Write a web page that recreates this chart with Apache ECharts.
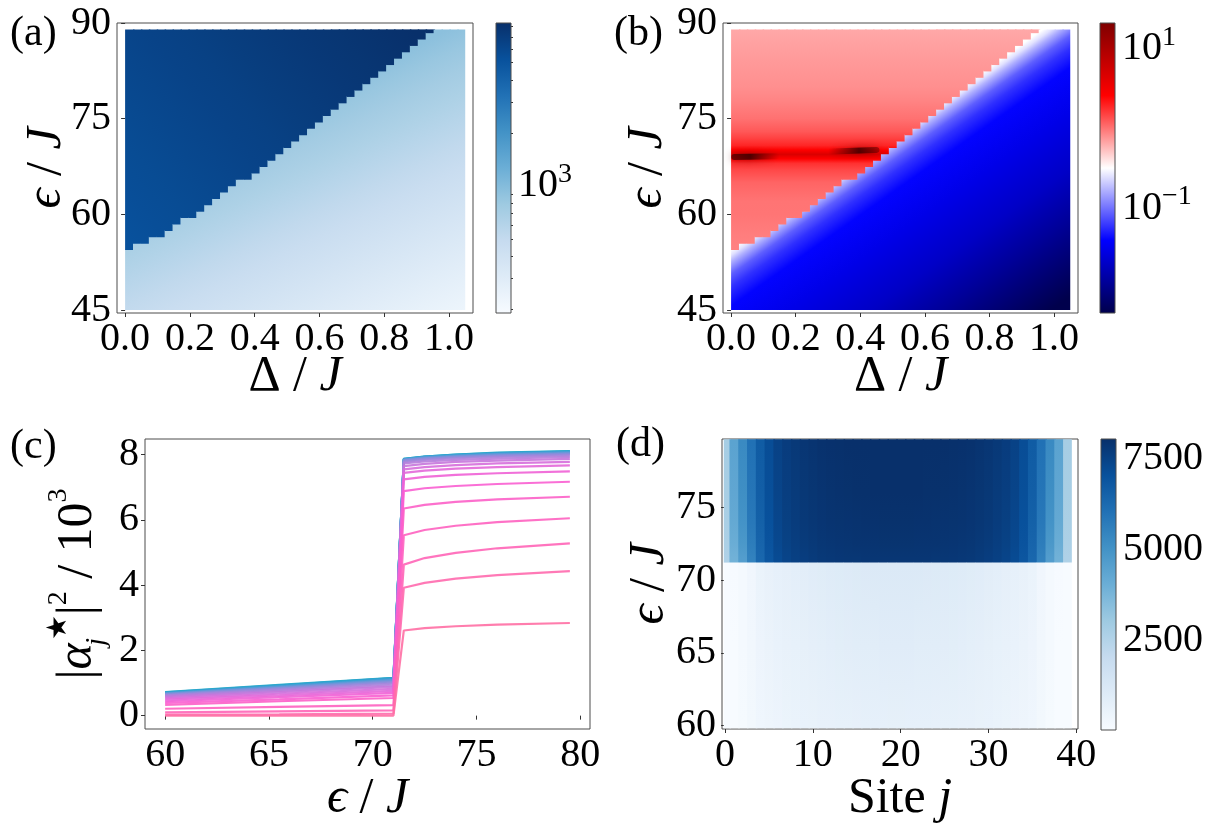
<!DOCTYPE html>
<html>
<head>
<meta charset="utf-8">
<title>phase diagram</title>
<script src="https://cdn.jsdelivr.net/npm/echarts@6.0.0/dist/echarts.min.js"></script>
<style>
html, body { margin: 0; padding: 0; background: #fff; }
#chart { width: 1214px; height: 836px; }
</style>
</head>
<body>
<div id="chart"></div>
<script>
// ---------- values ----------
// (a), (b): Delta/J columns over [0, 1.05], eps/J rows over [45, 89]
var deltaExtent = [0, 1.05];
var epsExtent = [45, 89];
var nCols = 43;
// first eps/J row of the upper phase in every Delta column
var boundaryEps = [55, 56, 56, 57, 57, 58, 59, 60, 60, 61, 62, 63, 64, 65, 66, 66, 67, 68, 69, 70, 71,
  72, 73, 74, 75, 76, 77, 78, 79, 80, 81, 82, 83, 84, 85, 86, 87, 88, 89, 90, 90, 90, 90];

// (a) lower phase: values at the two ends of its colour ramp
var lightAnchorA = [[1.05, 45], [0.70, 81.6]];
var lightValA = [230, 930];
// (a) upper phase
var darkAnchorA = [[0, 57], [0.83, 92.2]];
var darkValA = [5230, 8400];
var cbarRangeA = [190, 8400];
var cbarMajorA = [1000];
var cbarMinorA = [200, 300, 400, 500, 600, 700, 800, 900, 2000, 3000, 4000, 5000, 6000, 7000, 8000];

// (b) upper phase profile along eps/J
var redEpsB = [45, 55, 57, 60, 62, 65, 67, 68, 68.7, 69.4, 70.1, 70.8, 72, 73, 75, 78, 80, 85, 89];
var redValB = [0.90, 0.90, 0.93, 0.99, 1.0, 1.14, 1.45, 1.75, 2.6, 4.7, 2.6, 1.9, 1.5, 1.26, 1.03, 0.87, 0.80, 0.72, 0.65];
// (b) lower phase profile against eps/J distance below the boundary
var blueAnchorB = [[0.5, 72.4], [0.917, 42.4]];
var blueDistB = [0, 1, 2, 4, 6, 9, 16, 25, 33, 40, 45];
var blueValB = [0.32, 0.25, 0.166, 0.085, 0.058, 0.040, 0.030, 0.020, 0.0117, 0.007, 0.0048];
// dark streaks near eps/J ~ 69-70
var streakB = [[[0.01, 69.0], [0.14, 69.1]], [[0.31, 69.85], [0.45, 70.1]]];
var cbarRangeB = [0.0048, 21.2];
var cbarMajorB = [10, 0.1];

// (c) |alpha_j|^2 / 10^3 for sites j = 0..19 (site 39-j is the same)
var epsC = [60, 65.5, 71, 71.5, 72.5, 74, 76, 79.5];
var siteVals = [
  [0.00, 0.00, 0.00, 2.61, 2.68, 2.74, 2.79, 2.84],
  [0.03, 0.04, 0.06, 3.92, 4.07, 4.20, 4.31, 4.43],
  [0.10, 0.13, 0.16, 4.63, 4.83, 4.99, 5.13, 5.28],
  [0.21, 0.27, 0.32, 5.53, 5.69, 5.82, 5.93, 6.05],
  [0.33, 0.44, 0.54, 6.35, 6.46, 6.55, 6.63, 6.71],
  [0.39, 0.50, 0.62, 6.88, 6.97, 7.04, 7.10, 7.17],
  [0.44, 0.57, 0.70, 7.24, 7.32, 7.38, 7.43, 7.49],
  [0.49, 0.62, 0.76, 7.44, 7.51, 7.57, 7.62, 7.67],
  [0.53, 0.67, 0.82, 7.55, 7.62, 7.68, 7.73, 7.78],
  [0.57, 0.72, 0.88, 7.65, 7.72, 7.78, 7.82, 7.87],
  [0.60, 0.76, 0.93, 7.73, 7.79, 7.84, 7.88, 7.93],
  [0.62, 0.80, 0.98, 7.78, 7.84, 7.89, 7.93, 7.98],
  [0.64, 0.83, 1.02, 7.81, 7.87, 7.92, 7.96, 8.01],
  [0.66, 0.85, 1.05, 7.83, 7.89, 7.94, 7.98, 8.03],
  [0.67, 0.87, 1.08, 7.84, 7.90, 7.95, 8.00, 8.05],
  [0.68, 0.89, 1.10, 7.85, 7.92, 7.97, 8.02, 8.07],
  [0.69, 0.90, 1.12, 7.86, 7.93, 7.98, 8.03, 8.08],
  [0.70, 0.92, 1.14, 7.86, 7.93, 7.99, 8.04, 8.09],
  [0.71, 0.93, 1.15, 7.87, 7.94, 8.00, 8.05, 8.10],
  [0.72, 0.94, 1.16, 7.87, 7.94, 8.00, 8.06, 8.11]
];

// (d)
var nSites = 40;
var siteExtent = [-0.15, 39.8];
var epsExtentD = [59.8, 79.7];
var cbarRangeD = [20, 8050];
var cbarTicksD = [2500, 5000, 7500];

// ticks
var deltaTicks = [0, 0.2, 0.4, 0.6, 0.8, 1.0];
var epsTicksAB = [45, 60, 75, 90];
var epsTicksC = [60, 65, 70, 75, 80];
var valTicksC = [0, 2, 4, 6, 8];
var siteTicks = [0, 10, 20, 30, 40];
var epsTicksD = [60, 65, 70, 75];

// ---------- colour maps ----------
var BLUES = ['#f7fbff', '#deebf7', '#c6dbef', '#9ecae1', '#6baed6', '#4292c6', '#2171b5', '#08519c', '#08306b'];
var SEISMIC = ['#00004c', '#0000ff', '#ffffff', '#ff0000', '#7f0000'];
var LINE_COLORS = ['#ff6fa4', '#ff62be', '#f85ed4', '#d46fdc', '#a884dc', '#7096da', '#38a2d4', '#1ea6c6'];

var FONT = "'Liberation Serif', 'Times New Roman', serif";

function clamp(p) { return Math.max(0, Math.min(1, p)); }
function pLog(v, r) {
  var a = Math.log10(r[0]), b = Math.log10(r[1]);
  return clamp((Math.log10(v) - a) / (b - a));
}
function pLin(v, r) { return clamp((v - r[0]) / (r[1] - r[0])); }
function lerp(p, colors) { return echarts.color.lerp(p, colors); }
function linGrad(a, b, stops) {
  return { type: 'linear', x: a[0], y: a[1], x2: b[0], y2: b[1], global: true, colorStops: stops };
}
// colour ramp between two positions of a colour map
function rampStops(p0, p1, colors) {
  var stops = [];
  for (var i = 0; i <= 12; i++) {
    stops.push({ offset: i / 12, color: lerp(p0 + (p1 - p0) * i / 12, colors) });
  }
  return stops;
}

// ---------- fills of the two phases ----------
function lowA(api) {
  return linGrad(api.coord(lightAnchorA[0]), api.coord(lightAnchorA[1]),
    rampStops(pLog(lightValA[0], cbarRangeA), pLog(lightValA[1], cbarRangeA), BLUES));
}
function highA(api) {
  return linGrad(api.coord(darkAnchorA[0]), api.coord(darkAnchorA[1]),
    rampStops(pLog(darkValA[0], cbarRangeA), pLog(darkValA[1], cbarRangeA), BLUES));
}
function lowB(api) {
  var dMax = blueDistB[blueDistB.length - 1];
  var stops = blueDistB.map(function (d, i) {
    return { offset: d / dMax, color: lerp(pLog(blueValB[i], cbarRangeB), SEISMIC) };
  });
  return linGrad(api.coord(blueAnchorB[0]), api.coord(blueAnchorB[1]), stops);
}
function highB(api) {
  var span = epsExtent[1] - epsExtent[0];
  var stops = redEpsB.map(function (e, i) {
    return { offset: (e - epsExtent[0]) / span, color: lerp(pLog(redValB[i], cbarRangeB), SEISMIC) };
  });
  return linGrad(api.coord([0, epsExtent[0]]), api.coord([0, epsExtent[1]]), stops);
}

var colW = (deltaExtent[1] - deltaExtent[0]) / nCols;
var columnData = boundaryEps.map(function (b, k) {
  return [deltaExtent[0] + (k + 0.5) * colW, b - 0.5, k];
});

function phaseRender(low, high) {
  return function (params, api) {
    var xc = api.value(0);
    var last = api.value(2) === nCols - 1;
    var e = Math.max(epsExtent[0], Math.min(epsExtent[1], api.value(1)));
    var pBot = api.coord([xc - colW / 2, epsExtent[0]]);
    var pEdge = api.coord([xc + colW / 2, e]);
    var pTop = api.coord([xc - colW / 2, epsExtent[1]]);
    var w = pEdge[0] - pBot[0] + (last ? 0 : 1.5);
    var kids = [];
    if (e > epsExtent[0]) {
      kids.push({ type: 'rect', shape: { x: pBot[0], y: pEdge[1], width: w, height: pBot[1] - pEdge[1] },
        style: { fill: low(api) } });
    }
    if (e < epsExtent[1]) {
      kids.push({ type: 'rect', shape: { x: pBot[0], y: pTop[1], width: w, height: pEdge[1] - pTop[1] + 0.6 },
        style: { fill: high(api) } });
    }
    return { type: 'group', children: kids };
  };
}

// (d) cells, one column per site, coloured from the (c) values
var siteData = [];
for (var j = 0; j < nSites; j++) siteData.push([j, Math.min(j, nSites - 1 - j)]);

function renderD(params, api) {
  var jj = api.value(0), v = siteVals[api.value(1)];
  var x0 = Math.max(jj - 0.5, siteExtent[0]), x1 = Math.min(jj + 0.5, siteExtent[1]);
  var jump = (epsC[2] + epsC[3]) / 2;
  var bl = api.coord([x0, epsExtentD[0]]), mid = api.coord([x1, jump]), tr = api.coord([x1, epsExtentD[1]]);
  var w = mid[0] - bl[0] + (jj === nSites - 1 ? 0 : 1.5);
  function part(i0, i1) {
    var stops = [];
    for (var i = i0; i <= i1; i++) {
      stops.push({ offset: (epsC[i] - epsC[i0]) / (epsC[i1] - epsC[i0]),
        color: lerp(pLin(v[i] * 1000, cbarRangeD), BLUES) });
    }
    return linGrad(api.coord([0, epsC[i0]]), api.coord([0, epsC[i1]]), stops);
  }
  return { type: 'group', children: [
    { type: 'rect', shape: { x: bl[0], y: mid[1], width: w, height: bl[1] - mid[1] }, style: { fill: part(0, 2) } },
    { type: 'rect', shape: { x: bl[0], y: tr[1], width: w, height: mid[1] - tr[1] + 0.6 }, style: { fill: part(3, 7) } }
  ] };
}

function cbarRender(colors) {
  return function (params, api) {
    var lo = api.coord([0, api.value(0)]), hi = api.coord([1, api.value(1)]);
    var stops = colors.map(function (c, i) { return { offset: i / (colors.length - 1), color: c }; });
    return { type: 'rect', shape: { x: lo[0], y: hi[1], width: hi[0] - lo[0], height: lo[1] - hi[1] },
      style: { fill: linGrad([lo[0], lo[1]], [lo[0], hi[1]], stops), stroke: '#4d4d4d', lineWidth: 1 } };
  };
}

// ---------- axes ----------
var SUP = { fontFamily: FONT, fontSize: 28, color: '#000', verticalAlign: 'top', lineHeight: 28 };
var SUB = { fontFamily: FONT, fontSize: 28, color: '#000', fontStyle: 'italic', verticalAlign: 'bottom', lineHeight: 28, width: 3 };
var ITAL = { fontFamily: FONT, fontSize: 50, color: '#000', fontStyle: 'italic' };
var NAME = { fontFamily: FONT, fontSize: 50, color: '#000', lineHeight: 66, rich: { i: ITAL, sp: SUP, sb: SUB } };
var LABEL = { fontFamily: FONT, fontSize: 40, color: '#000' };

function mainAxis(pos, gi, min, max, ticks, fmt, name, gap) {
  return {
    type: 'value', gridIndex: gi, position: pos, min: min, max: max,
    axisLine: { show: false }, splitLine: { show: false },
    axisTick: { show: true, inside: false, length: 4, customValues: ticks, lineStyle: { color: '#333', width: 1 } },
    axisLabel: Object.assign({ show: true, customValues: ticks, formatter: fmt, margin: 6 }, LABEL),
    name: name, nameLocation: 'middle', nameGap: gap, nameMoveOverlap: false,
    nameRotate: pos === 'left' ? 90 : 0, nameTextStyle: NAME
  };
}
function hiddenAxis(gi, min, max) {
  return { type: 'value', gridIndex: gi, min: min, max: max, show: false };
}
function powLabel(v) {
  var e = Math.round(v);
  return '10{sp|' + (e < 0 ? '\u2212' + (-e) : e) + '}';
}
function cbarAxis(gi, min, max, ticks, fmt, len, showLabel) {
  return {
    type: 'value', gridIndex: gi, position: 'right', min: min, max: max,
    axisLine: { show: false }, splitLine: { show: false },
    axisTick: { show: true, inside: false, length: len, customValues: ticks, lineStyle: { color: '#333', width: 1 } },
    axisLabel: Object.assign({ show: showLabel, customValues: ticks, formatter: fmt, margin: 7, lineHeight: 50,
      rich: { sp: SUP } }, LABEL)
  };
}
function fmt1(v) { return v.toFixed(1); }
function fmt0(v) { return String(Math.round(v)); }

var log10 = function (v) { return Math.log10(v); };

var gridBase = { show: true, borderColor: '#4d4d4d', borderWidth: 1, backgroundColor: 'transparent',
  containLabel: false, outerBoundsMode: 'none' };
var grids = [
  { left: 117, top: 23, width: 356, height: 290 },
  { left: 496, top: 23, width: 15, height: 290, show: false },
  { left: 723, top: 23, width: 355, height: 290 },
  { left: 1100, top: 23, width: 15, height: 290, show: false },
  { left: 145, top: 439, width: 445, height: 290 },
  { left: 722, top: 439, width: 356, height: 290 },
  { left: 1101, top: 439, width: 15, height: 291, show: false }
].map(function (g) { return Object.assign({}, gridBase, g); });

var xAxes = [
  mainAxis('bottom', 0, -0.025, 1.074, deltaTicks, fmt1, '\u0394 / {i|J}', 31),
  hiddenAxis(1, 0, 1),
  mainAxis('bottom', 2, -0.025, 1.074, deltaTicks, fmt1, '\u0394 / {i|J}', 31),
  hiddenAxis(3, 0, 1),
  mainAxis('bottom', 4, 59.03, 80.47, epsTicksC, fmt0, '{i|\u03f5} / {i|J}', 37),
  mainAxis('bottom', 5, -0.35, 40.2, siteTicks, fmt0, 'Site {i|j}', 37),
  hiddenAxis(6, 0, 1)
];
var yAxes = [
  mainAxis('left', 0, 44.53, 90, epsTicksAB, fmt0, '{i|\u03f5} / {i|J}', 37),
  cbarAxis(1, log10(cbarRangeA[0]), log10(cbarRangeA[1]), cbarMajorA.map(log10), powLabel, 4, true),
  cbarAxis(1, log10(cbarRangeA[0]), log10(cbarRangeA[1]), cbarMinorA.map(log10), null, 2, false),
  mainAxis('left', 2, 44.53, 90, epsTicksAB, fmt0, '{i|\u03f5} / {i|J}', 42),
  cbarAxis(3, log10(cbarRangeB[0]), log10(cbarRangeB[1]), cbarMajorB.map(log10), powLabel, 4, true),
  mainAxis('left', 4, -0.41, 8.48, valTicksC, fmt0, '|{i|\u03b1}{sb|j}{sp|\u2605}|{sp|2} / 10{sp|3}', 34),
  mainAxis('left', 5, 59.75, 79.72, epsTicksD, fmt0, '{i|\u03f5} / {i|J}', 39),
  cbarAxis(6, cbarRangeD[0], cbarRangeD[1], cbarTicksD, fmt0, 4, true)
];

// ---------- series ----------
var series = [
  { type: 'custom', xAxisIndex: 0, yAxisIndex: 0, data: columnData, renderItem: phaseRender(lowA, highA), silent: true },
  { type: 'custom', xAxisIndex: 1, yAxisIndex: 1, data: [[log10(cbarRangeA[0]), log10(cbarRangeA[1])]], renderItem: cbarRender(BLUES), silent: true },
  { type: 'custom', xAxisIndex: 2, yAxisIndex: 3, data: columnData, renderItem: phaseRender(lowB, highB), silent: true },
  { type: 'custom', xAxisIndex: 3, yAxisIndex: 4, data: [[log10(cbarRangeB[0]), log10(cbarRangeB[1])]], renderItem: cbarRender(SEISMIC), silent: true },
  { type: 'custom', xAxisIndex: 5, yAxisIndex: 6, data: siteData, renderItem: renderD, silent: true },
  { type: 'custom', xAxisIndex: 6, yAxisIndex: 7, data: [cbarRangeD], renderItem: cbarRender(BLUES), silent: true }
];

streakB.forEach(function (seg, i) {
  series.push({
    type: 'line', xAxisIndex: 2, yAxisIndex: 3, data: seg, symbol: 'none', silent: true, z: 5,
    lineStyle: { width: 6, cap: 'round', shadowBlur: 8, shadowColor: 'rgba(90,0,0,0.7)',
      color: { type: 'linear', x: 0, y: 0, x2: 1, y2: 0, colorStops: i === 0
        ? [{ offset: 0, color: 'rgba(50,0,0,0.6)' }, { offset: 0.4, color: 'rgba(40,0,0,0.75)' }, { offset: 1, color: 'rgba(90,0,0,0)' }]
        : [{ offset: 0, color: 'rgba(90,0,0,0)' }, { offset: 0.6, color: 'rgba(40,0,0,0.75)' }, { offset: 1, color: 'rgba(60,0,0,0.4)' }] } }
  });
});

for (var s = siteVals.length - 1; s >= 0; s--) {
  series.push({
    type: 'line', xAxisIndex: 4, yAxisIndex: 5, symbol: 'none', silent: true,
    data: epsC.map(function (e, i) { return [e, siteVals[s][i]]; }),
    lineStyle: { width: 2.2, opacity: 0.9, color: lerp(s / (siteVals.length - 1), LINE_COLORS) }
  });
}

function panelLabel(text, x, y) {
  return { type: 'text', x: x, y: y, style: { text: text, fontFamily: FONT, fontSize: 42, fill: '#000', verticalAlign: 'middle' } };
}

var chart = echarts.init(document.getElementById('chart'));
chart.setOption({
  animation: false,
  backgroundColor: '#fff',
  textStyle: { fontFamily: FONT },
  grid: grids,
  xAxis: xAxes,
  yAxis: yAxes,
  series: series,
  graphic: [
    panelLabel('(a)', 10, 34),
    panelLabel('(b)', 614, 34),
    panelLabel('(c)', 10, 447),
    panelLabel('(d)', 616, 445)
  ]
});
</script>
</body>
</html>
